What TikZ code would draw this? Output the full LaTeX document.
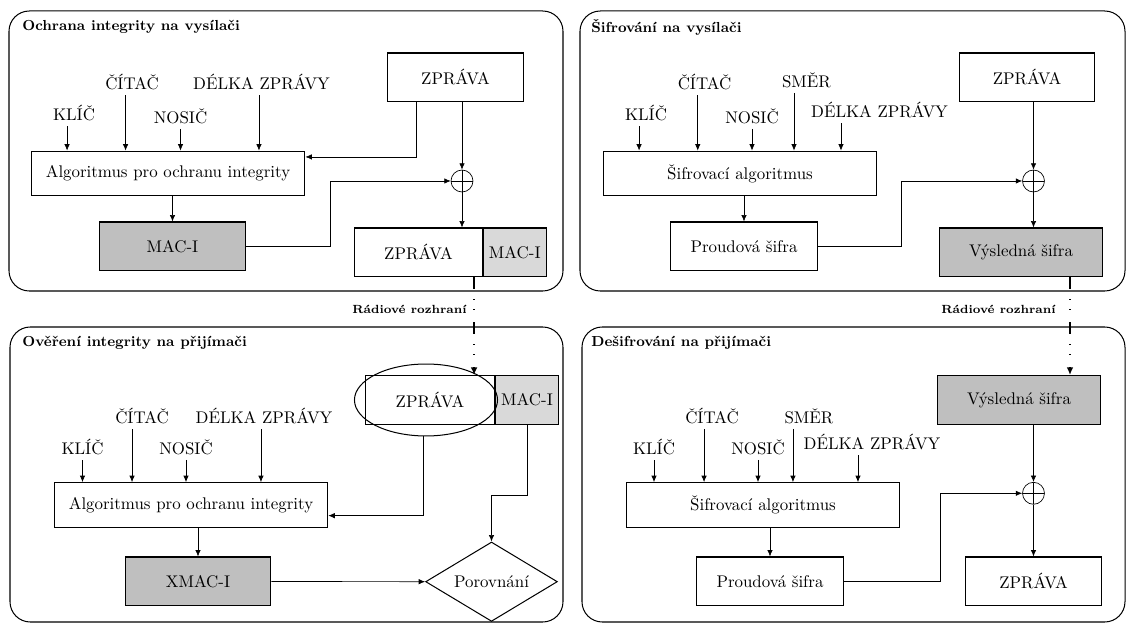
\documentclass[tikz,border=0pt]{standalone}
\usepackage{tikz}
\usetikzlibrary{arrows.meta,positioning,shapes.geometric,calc}

\begin{document}
\begin{tikzpicture}[
  x=0.592pt, y=-0.592pt,
  panel/.style={draw, semithick, rounded corners=12pt},
  paneltitle/.style={anchor=west, inner sep=0pt, font=\fontsize{8.6}{10}\selectfont\bfseries},
  box/.style={draw, semithick, rectangle, align=center, minimum height=29pt, inner sep=0pt},
  algbox/.style={box, minimum width=162pt, minimum height=26.5pt},
  shaded/.style={fill=black!25},
  lightshaded/.style={fill=black!15},
  param/.style={inner sep=3pt},
  xor/.style={draw, circle, minimum size=13pt, inner sep=0pt,
    path picture={\draw (path picture bounding box.north) -- (path picture bounding box.south)
                        (path picture bounding box.west) -- (path picture bounding box.east);}},
  cmpbox/.style={draw, semithick, diamond, aspect=1.65, minimum width=78pt, minimum height=47pt, inner sep=0pt},
  arr/.style={-{Latex[length=3.8pt,width=3.2pt]}},
  radio/.style={line width=1pt, -{Latex[length=4.5pt,width=4pt]}, dash pattern=on 7pt off 6pt on 0.6pt off 5.3pt on 0.6pt off 7pt},
  radiolab/.style={anchor=east, inner sep=0pt, font=\scriptsize\bfseries}
]
\useasboundingbox (0,0) rectangle (1126,624);

% ochrana integrity na vysilaci
\draw[panel] (9,11) rectangle (563,291);
\node[paneltitle] (t1) at (22,27) {Ochrana integrity na vysílači};
\node[box, minimum width=80pt] (msg1) at (455.5,77.5) {ZPRÁVA};
\node[param] (klic1) at (74,113) {KLÍČ};
\node[param] (citac1) at (132,82) {ČÍTAČ};
\node[param] (nosic1) at (180.5,116) {NOSIČ};
\node[param] (delka1) at (261.5,82) {DÉLKA ZPRÁVY};
\node[algbox] (alg1) at (168,173.5) {Algoritmus pro ochranu integrity};
\node[box, shaded, minimum width=87pt] (mac1) at (172.5,246.5) {MAC-I};
\node[xor] (xor1) at (462,181) {};
\node[box, minimum width=75.8pt] (cat1) at (418.5,252.5) {ZPRÁVA};
\node[box, lightshaded, minimum width=37pt, anchor=west] (catmac1) at (cat1.east) {MAC-I};
\foreach \n/\s in {klic1/-4.1,citac1/-3.8,nosic1/0,delka1/-1.5}{
  \draw[arr] ([xshift=\s pt]\n.south) -- ([xshift=\s pt]\n.south |- alg1.north);
}
\draw[arr] (mac1.north |- alg1.south) -- (mac1.north);
\draw[arr] ([xshift=-23.4pt]msg1.south) |- ([yshift=9.8pt]alg1.east);
\draw[arr] (msg1.south -| xor1) -- (xor1.north);
\draw[arr] (mac1.east) -- ++(84,0) |- (xor1.west);
\draw[arr] (xor1.south) -- (xor1.south |- cat1.north);

% sifrovani na vysilaci
\draw[panel] (580,11) rectangle (1125,291);
\node[paneltitle] (t2) at (591,27) {Šifrování na vysílači};
\node[box, minimum width=80pt] (msg2) at (1027,77.5) {ZPRÁVA};
\node[param] (klic2) at (646,113) {KLÍČ};
\node[param] (citac2) at (704.5,82) {ČÍTAČ};
\node[param] (nosic2) at (752,116) {NOSIČ};
\node[param] (smer2) at (806.5,80) {SMĚR};
\node[param] (delka2) at (879.5,110) {DÉLKA ZPRÁVY};
\node[algbox] (alg2) at (740,173.5) {Šifrovací algoritmus};
\node[box, minimum width=86.7pt] (str2) at (744,246.5) {Proudová šifra};
\node[xor] (xor2) at (1033.5,181) {};
\node[box, shaded, minimum width=96.8pt] (res2) at (1021,252.5) {Výsledná šifra};
\foreach \n/\s in {klic2/-4.1,citac2/-4,nosic2/0,smer2/-7.4,delka2/-22.8}{
  \draw[arr] ([xshift=\s pt]\n.south) -- ([xshift=\s pt]\n.south |- alg2.north);
}
\draw[arr] (str2.north |- alg2.south) -- (str2.north);
\draw[arr] (msg2.south -| xor2) -- (xor2.north);
\draw[arr] (str2.east) -- ++(84,0) |- (xor2.west);
\draw[arr] (xor2.south) -- (xor2.south |- res2.north);

% overeni integrity na prijimaci
\draw[panel] (10,327) rectangle (563,622);
\node[paneltitle] (t3) at (22,343) {Ověření integrity na přijímači};
\node[box, minimum width=76.4pt] (msg3) at (430,400) {ZPRÁVA};
\node[box, lightshaded, minimum width=37.3pt, anchor=west] (mac3) at (msg3.east) {MAC-I};
\node[draw, semithick, ellipse, minimum width=84.7pt, minimum height=42.6pt, inner sep=0pt] (ell3) at (426,400) {};
\node[param] (klic3) at (82.5,447) {KLÍČ};
\node[param] (citac3) at (142,416) {ČÍTAČ};
\node[param] (nosic3) at (186,447) {NOSIČ};
\node[param] (delka3) at (264,416) {DÉLKA ZPRÁVY};
\node[algbox] (alg3) at (191,505) {Algoritmus pro ochranu integrity};
\node[box, shaded, minimum width=86.4pt] (xmac3) at (198,581.5) {XMAC-I};
\node[cmpbox] (cmp3) at (491.5,581.7) {Porovnání};
\foreach \n/\s in {klic3/0,citac3/-5.9,nosic3/0,delka3/-1.8}{
  \draw[arr] ([xshift=\s pt]\n.south) -- ([xshift=\s pt]\n.south |- alg3.north);
}
\draw[arr] (xmac3.north |- alg3.south) -- (xmac3.north);
\draw[arr] ([xshift=-1.8pt]ell3.south) |- ([yshift=-6.3pt]alg3.east);
\draw[arr] (mac3.south) -- ++(0,70) -| (cmp3.north);
\draw[arr] (xmac3.east) -- (cmp3.west);

% desifrovani na prijimaci
\draw[panel] (582,327) rectangle (1125,622);
\node[paneltitle] (t4) at (591,343) {Dešifrování na přijímači};
\node[box, shaded, minimum width=97pt] (res4) at (1019,400) {Výsledná šifra};
\node[param] (klic4) at (654,447) {KLÍČ};
\node[param] (citac4) at (712,416) {ČÍTAČ};
\node[param] (nosic4) at (758,447) {NOSIČ};
\node[param] (smer4) at (809,416) {SMĚR};
\node[param] (delka4) at (872,442) {DÉLKA ZPRÁVY};
\node[algbox] (alg4) at (763,505) {Šifrovací algoritmus};
\node[box, minimum width=86.7pt] (str4) at (770,581.5) {Proudová šifra};
\node[xor] (xor4) at (1033.5,493.3) {};
\node[box, minimum width=80pt] (msg4) at (1033.5,581.5) {ZPRÁVA};
\foreach \n/\s in {klic4/0,citac4/-4.7,nosic4/0,smer4/-9.5,delka4/-8.3}{
  \draw[arr] ([xshift=\s pt]\n.south) -- ([xshift=\s pt]\n.south |- alg4.north);
}
\draw[arr] (str4.north |- alg4.south) -- (str4.north);
\draw[arr] (res4.south -| xor4) -- (xor4.north);
\draw[arr] (str4.east) -- ++(97,0) |- (xor4.west);
\draw[arr] (xor4.south) -- (msg4.north);

% radiove rozhrani
\draw[radio] ([xshift=32.9pt]cat1.south) -- ([xshift=32.9pt]cat1.south |- msg3.north);
\node[radiolab] (rad1) at (467,309) {Rádiové rozhraní};
\draw[radio] ([xshift=29pt]res2.south) -- ([xshift=29pt]res2.south |- res4.north);
\node[radiolab] (rad2) at (1056,309) {Rádiové rozhraní};
\end{tikzpicture}
\end{document}
